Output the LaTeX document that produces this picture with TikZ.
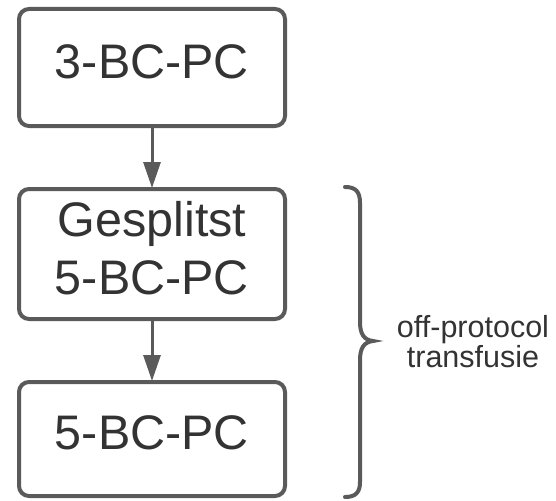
\documentclass[tikz,border=0pt]{standalone}
\usepackage{fontspec}
\setmainfont{Liberation Sans}
\usetikzlibrary{arrows.meta}
\definecolor{linegray}{HTML}{5A5A5A}
\definecolor{textgray}{HTML}{333333}
\tikzset{
  flowbox/.style={draw=linegray, line width=4pt, rounded corners=10pt,
    minimum width=266pt, inner sep=0pt, text=textgray, align=center,
    font=\fontsize{48.5}{58}\selectfont, text depth=12pt},
  flowarrow/.style={draw=linegray, line width=3pt,
    -{Triangle[length=26pt,width=17pt]}, shorten >=-1pt},
  bracelabel/.style={text=textgray, align=center, inner sep=0pt,
    font=\fontsize{30.5}{30}\selectfont}
}
\begin{document}
\begin{tikzpicture}[x=1pt,y=-1pt]
\useasboundingbox (0,0) rectangle (556,500);
\node[flowbox, minimum height=117pt] (b1) at (152,67.5) {3-BC-PC};
\node[flowbox, minimum height=130pt] (b2) at (152,254) {Gesplitst\\5-BC-PC};
\node[flowbox, minimum height=114pt] (b3) at (152,439) {5-BC-PC};
\draw[flowarrow] (b1.south) -- (b2.north);
\draw[flowarrow] (b2.south) -- (b3.north);
\draw[linegray, line width=4pt, line cap=round]
  (345,187) .. controls (356,187) and (360,192) .. (360,203)
  -- (360,322) .. controls (360,334) and (364,340) .. (373,341)
  .. controls (364,342) and (360,348) .. (360,360)
  -- (360,482) .. controls (360,492) and (356,497) .. (345,497);
\node[bracelabel, anchor=base] (lbl) at (473,367) {off-protocol\\transfusie};
\end{tikzpicture}
\end{document}
